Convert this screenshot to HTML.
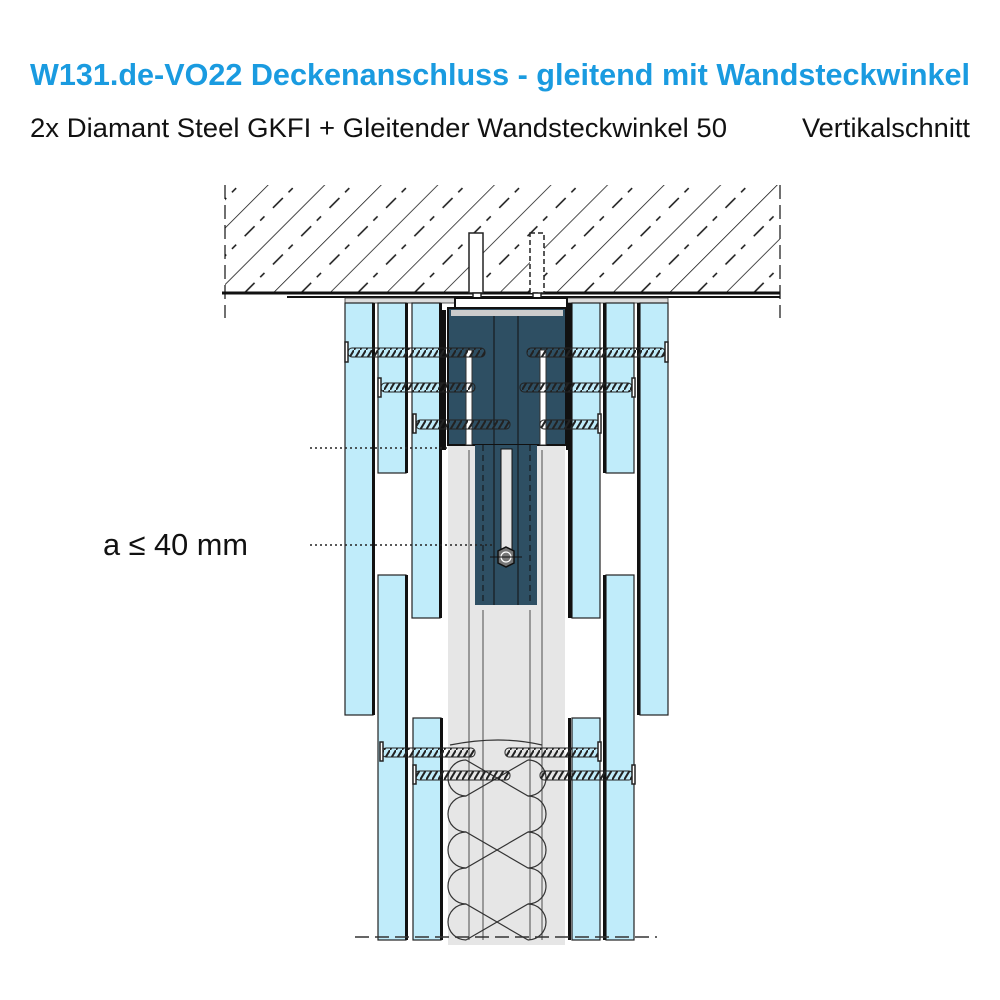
<!DOCTYPE html>
<html><head><meta charset="utf-8"><style>
html,body{margin:0;padding:0;background:#fff;}
svg{display:block;}
text{font-family:"Liberation Sans",sans-serif;}
</style></head><body>
<svg width="1000" height="1000" viewBox="0 0 1000 1000" xmlns="http://www.w3.org/2000/svg">
<defs>
<pattern id="hatch" patternUnits="userSpaceOnUse" width="40" height="40" patternTransform="rotate(-45)">
<line x1="0" y1="0" x2="40" y2="0" stroke="#111" stroke-width="1.5"/>
<line x1="6" y1="20" x2="20" y2="20" stroke="#111" stroke-width="1.5"/>
<line x1="28" y1="20" x2="34" y2="20" stroke="#111" stroke-width="1.5"/>
</pattern>
<pattern id="thread" patternUnits="userSpaceOnUse" width="6" height="10">
<line x1="0" y1="10" x2="6" y2="0" stroke="#222" stroke-width="2"/>
</pattern>
</defs>
<text x="30" y="85" font-size="31" font-weight="bold" fill="#1a9be0" textLength="940" lengthAdjust="spacingAndGlyphs">W131.de-VO22 Deckenanschluss - gleitend mit Wandsteckwinkel</text>
<text x="30" y="137" font-size="27" fill="#111" textLength="697" lengthAdjust="spacingAndGlyphs">2x Diamant Steel GKFI + Gleitender Wandsteckwinkel 50</text>
<text x="802" y="137" font-size="27" fill="#111" textLength="168" lengthAdjust="spacingAndGlyphs">Vertikalschnitt</text>
<text x="103" y="555" font-size="31" fill="#111" textLength="145" lengthAdjust="spacingAndGlyphs">a ≤ 40 mm</text>

<!-- ceiling -->
<rect x="225" y="185" width="555" height="108" fill="url(#hatch)"/>
<line x1="225" y1="185" x2="225" y2="318" stroke="#111" stroke-width="1.2" stroke-dasharray="14,6"/>
<line x1="780" y1="185" x2="780" y2="318" stroke="#111" stroke-width="1.2" stroke-dasharray="14,6"/>
<line x1="222" y1="293" x2="780" y2="293" stroke="#111" stroke-width="3"/>
<line x1="287" y1="297" x2="780" y2="297" stroke="#111" stroke-width="2"/>
<rect x="345" y="298" width="323" height="5" fill="#ddd" stroke="#333" stroke-width="0.8"/>

<!-- anchors -->
<g stroke="#222" stroke-width="1.5" fill="#fff">
<rect x="469" y="233" width="14" height="60"/>
<rect x="473" y="293" width="8" height="15"/>
<rect x="530" y="233" width="14" height="60" stroke-dasharray="5,3"/>
<rect x="533" y="293" width="8" height="15"/>
</g>
<rect x="455" y="298" width="112" height="12" fill="#fff" stroke="#111" stroke-width="2"/>

<!-- stud -->
<rect x="448" y="445" width="117" height="500" fill="#e6e6e6"/>
<g stroke="#666" stroke-width="1.2">
<line x1="469" y1="450" x2="469" y2="940"/><line x1="542" y1="450" x2="542" y2="940"/>
<line x1="483" y1="610" x2="483" y2="940"/><line x1="530" y1="610" x2="530" y2="940"/>
</g>
<!-- profile -->
<rect x="448" y="308" width="118" height="137" fill="#2e4f63" stroke="#111" stroke-width="2"/>
<rect x="451" y="310" width="112" height="6" fill="#ccc"/>
<rect x="475" y="445" width="62" height="160" fill="#2e4f63"/>
<g stroke="#111" stroke-width="1">
<line x1="494" y1="316" x2="494" y2="605"/><line x1="518" y1="316" x2="518" y2="605"/>
<line x1="483" y1="445" x2="483" y2="605" stroke-dasharray="6,4"/><line x1="530" y1="445" x2="530" y2="605" stroke-dasharray="6,4"/>
</g>
<rect x="466" y="350" width="6" height="95" fill="#fff" stroke="#333"/>
<rect x="540" y="350" width="6" height="95" fill="#fff" stroke="#333"/>
<rect x="501" y="449" width="11" height="106" fill="#e6e6e6" stroke="#111"/>
<polygon points="506,547 514,551 514,563 506,567 498,563 498,551" fill="#777" stroke="#111" stroke-width="1.5"/>
<circle cx="506" cy="557" r="5" fill="none" stroke="#fff" stroke-width="1.2"/>
<line x1="490" y1="557" x2="522" y2="557" stroke="#111"/>

<!-- boards -->
<g fill="#c0ecfa" stroke="#222" stroke-width="1.2">
<rect x="345" y="303" width="28" height="412"/>
<rect x="378" y="303" width="28" height="170"/>
<rect x="378" y="575" width="28" height="365"/>
<rect x="412" y="303" width="28" height="315"/>
<rect x="413" y="718" width="28" height="222"/>
<rect x="572" y="303" width="28" height="315"/>
<rect x="572" y="718" width="28" height="222"/>
<rect x="606" y="303" width="28" height="170"/>
<rect x="606" y="575" width="28" height="365"/>
<rect x="640" y="303" width="28" height="412"/>
</g>
<g fill="#111">
<rect x="372" y="303" width="3" height="412"/><rect x="405" y="303" width="3" height="170"/>
<rect x="405" y="575" width="3" height="365"/><rect x="439" y="303" width="3" height="315"/>
<rect x="440" y="718" width="3" height="222"/><rect x="442" y="310" width="4" height="140"/>
<rect x="568" y="303" width="4" height="315"/><rect x="568" y="718" width="3" height="222"/>
<rect x="603" y="303" width="3" height="170"/><rect x="603" y="575" width="3" height="365"/>
<rect x="637" y="303" width="3" height="412"/><rect x="566" y="310" width="3" height="140"/>
</g>

<!-- insulation -->
<g fill="none" stroke="#333" stroke-width="1.2">
<path d="M450,745 Q500,735 542,745"/>
<path d="M466,760 L528,796 A18 18 0 0 1 528,832 L466,868 A18 18 0 0 0 466,904 L528,940"/>
<path d="M528,760 L466,796 A18 18 0 0 0 466,832 L528,868 A18 18 0 0 1 528,904 L466,940"/>
<path d="M466,760 A18 18 0 0 0 466,796 M528,832 A18 18 0 0 1 528,868 M466,904 A18 18 0 0 0 466,940"/>
<path d="M528,760 A18 18 0 0 1 528,796 M466,832 A18 18 0 0 0 466,868 M528,904 A18 18 0 0 1 528,940"/>
</g>

<!-- screws -->
<g fill="url(#thread)" stroke="#222" stroke-width="1">
<rect x="348" y="348" width="137" height="9" rx="4"/>
<rect x="527" y="348" width="138" height="9" rx="4"/>
<rect x="381" y="383" width="94" height="9" rx="4"/>
<rect x="520" y="383" width="112" height="9" rx="4"/>
<rect x="416" y="420" width="94" height="9" rx="4"/>
<rect x="540" y="420" width="60" height="9" rx="4"/>
<rect x="382" y="748" width="93" height="9" rx="4"/>
<rect x="505" y="748" width="95" height="9" rx="4"/>
<rect x="415" y="771" width="95" height="9" rx="4"/>
<rect x="540" y="771" width="93" height="9" rx="4"/>
</g>
<g fill="#fff" stroke="#222" stroke-width="1.5">
<rect x="345" y="342" width="3" height="20"/><rect x="665" y="342" width="3" height="20"/>
<rect x="378" y="378" width="3" height="19"/><rect x="632" y="378" width="3" height="19"/>
<rect x="413" y="414" width="3" height="19"/><rect x="598" y="414" width="3" height="19"/>
<rect x="380" y="742" width="3" height="19"/><rect x="598" y="742" width="3" height="19"/>
<rect x="413" y="765" width="3" height="19"/><rect x="632" y="765" width="3" height="19"/>
</g>

<!-- dotted dimension lines -->
<line x1="310" y1="448" x2="448" y2="448" stroke="#222" stroke-width="1.5" stroke-dasharray="2,3"/>
<line x1="310" y1="545" x2="495" y2="545" stroke="#222" stroke-width="1.5" stroke-dasharray="2,3"/>
<!-- bottom dashed -->
<line x1="355" y1="937" x2="657" y2="937" stroke="#333" stroke-width="1.5" stroke-dasharray="14,6"/>
</svg>
</body></html>
